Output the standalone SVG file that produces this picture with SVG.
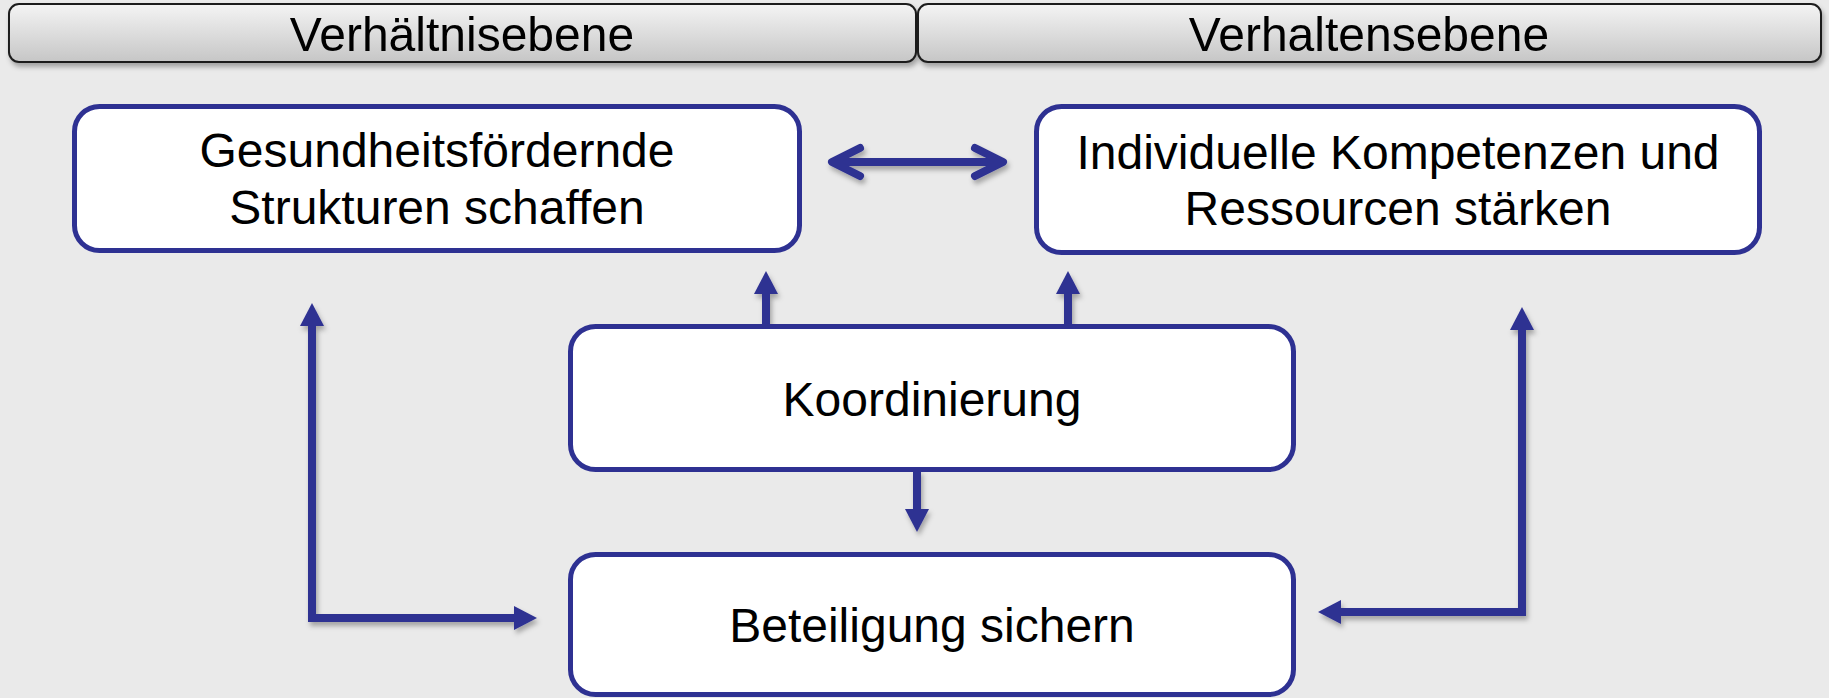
<svg xmlns="http://www.w3.org/2000/svg" width="1829" height="698" viewBox="0 0 1829 698">
<style>
.hdr{stroke:#1f1f1f;stroke-width:2;fill:url(#hg)}
.node{fill:#ffffff;stroke:#2E3192;stroke-width:5}
.t{font-family:"Liberation Sans",Arial,sans-serif;font-size:48px;fill:#000;text-anchor:middle}
.c{fill:none;stroke:#2E3192;stroke-width:8}
.chev{fill:none;stroke:#2E3192;stroke-width:8;stroke-linecap:round;stroke-linejoin:round}
</style>
<defs>
<linearGradient id="hg" x1="0" y1="0" x2="0" y2="1">
<stop offset="0" stop-color="#f4f4f4"/>
<stop offset="1" stop-color="#c6c6c6"/>
</linearGradient>
<filter id="sh" x="-20%" y="-20%" width="140%" height="160%">
<feDropShadow dx="2" dy="4" stdDeviation="2.5" flood-color="#000" flood-opacity="0.3"/>
</filter>
<marker id="ah" markerUnits="userSpaceOnUse" viewBox="0 0 23 24" refX="0" refY="12" markerWidth="23" markerHeight="24" orient="auto-start-reverse">
<path d="M0,0 L23,12 L0,24 z" fill="#2E3192"/>
</marker>
</defs>
<rect x="0" y="0" width="1829" height="698" fill="#EAEAEA"/>

<g id="header-verhaeltnisebene" filter="url(#sh)">
<rect class="hdr" x="9" y="4" width="907" height="58" rx="10"/>
<text class="t" x="462" y="51">Verhältnisebene</text>
</g>
<g id="header-verhaltensebene" filter="url(#sh)">
<rect class="hdr" x="918" y="4" width="903" height="58" rx="10"/>
<text class="t" x="1369" y="51">Verhaltensebene</text>
</g>

<g id="connectors" filter="url(#sh)">
<path class="c" d="M836,162 L999,162"/>
<path class="chev" d="M860,148 L832,162 L860,176"/>
<path class="chev" d="M975,148 L1003,162 L975,176"/>
<path class="c" d="M766,326 L766,294" marker-end="url(#ah)"/>
<path class="c" d="M1068,326 L1068,294" marker-end="url(#ah)"/>
<path class="c" d="M917,470 L917,509" marker-end="url(#ah)"/>
<path class="c" d="M514,618 L312,618 L312,326" marker-start="url(#ah)" marker-end="url(#ah)"/>
<path class="c" d="M1341,612 L1522,612 L1522,330" marker-start="url(#ah)" marker-end="url(#ah)"/>
</g>

<g id="node-strukturen">
<rect class="node" x="74.5" y="106.5" width="725" height="144" rx="25"/>
<text class="t" x="437" y="167">Gesundheitsfördernde</text>
<text class="t" x="437" y="224">Strukturen schaffen</text>
</g>
<g id="node-kompetenzen">
<rect class="node" x="1036.5" y="106.5" width="723" height="146" rx="25"/>
<text class="t" x="1398" y="169">Individuelle Kompetenzen und</text>
<text class="t" x="1398" y="225">Ressourcen stärken</text>
</g>
<g id="node-koordinierung">
<rect class="node" x="570.5" y="326.5" width="723" height="143" rx="25"/>
<text class="t" x="932" y="416">Koordinierung</text>
</g>
<g id="node-beteiligung">
<rect class="node" x="570.5" y="554.5" width="723" height="140" rx="25"/>
<text class="t" x="932" y="642">Beteiligung sichern</text>
</g>
</svg>
